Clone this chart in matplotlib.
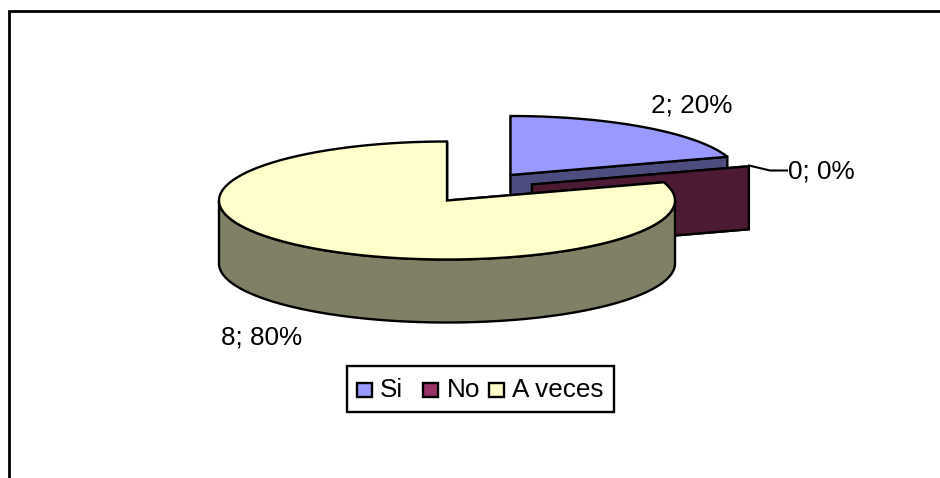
import numpy as np
import matplotlib
matplotlib.use('Agg')
import matplotlib.pyplot as plt
from matplotlib.patches import Polygon, Rectangle

plt.rcParams['font.family'] = ['Liberation Sans', 'DejaVu Sans']

categories = ['Si', 'No', 'A veces']
values = [2, 0, 8]
labels = ['2; 20%', '0; 0%', '8; 80%']
top_colors = ['#9999FF', '#993366', '#FFFFCC']
side_colors = ['#4D4D80', '#4D1A33', '#808066']

# centro de cada sector (explosion), en pixeles de la imagen
centers = [(510.5, 175), (532, 184.5), (447, 200.5)]
rx, ry, depth = 228, 59, 63
W, H = 940, 478
LW = 1.7

fig = plt.figure(figsize=(W / 100, H / 100), dpi=100)
ax = fig.add_axes([0, 0, 1, 1])
ax.set_xlim(0, W)
ax.set_ylim(H, 0)
ax.axis('off')

# marco del grafico: solo arriba y a la izquierda
ax.plot([8.7, 8.7, 940], [478, 11, 11], color='black', lw=2, solid_capstyle='butt', solid_joinstyle='miter')


def rim(cx, cy, a0, a1, n=200):
    a = np.radians(np.linspace(a0, a1, n))
    return cx + rx * np.sin(a), cy - ry * np.cos(a)


def draw_slice(i, a0, a1, z):
    cx, cy = centers[i]
    x, y = rim(cx, cy, a0, a1)
    # paredes rectas
    for a in (a0, a1):
        ex, ey = rim(cx, cy, a, a, 1)
        ax.add_patch(Polygon([(cx, cy), (ex[0], ey[0]), (ex[0], ey[0] + depth), (cx, cy + depth)],
                             closed=True, fc=side_colors[i], ec='black', lw=LW, zorder=z))
    # pared curva, solo la parte delantera
    lo, hi = max(a0, 90), min(a1, 270)
    if hi > lo:
        sx, sy = rim(cx, cy, lo, hi)
        ax.add_patch(Polygon(np.r_[np.c_[sx, sy], np.c_[sx[::-1], sy[::-1] + depth]],
                             closed=True, fc=side_colors[i], ec='black', lw=LW, zorder=z + 0.1))
    if a1 > a0:
        ax.add_patch(Polygon(np.r_[[(cx, cy)], np.c_[x, y]], closed=True,
                             fc=top_colors[i], ec='black', lw=LW, zorder=z + 0.2))


total = sum(values)
angles = np.r_[0, np.cumsum(values) / total * 360]
for i, z in zip([0, 1, 2], [2, 3, 4]):
    draw_slice(i, angles[i], angles[i + 1], z)

# etiquetas
ax.text(692, 105, labels[0], fontsize=18.8, ha='center', va='center', color='black')
ax.plot([749, 770, 787], [165.5, 170.5, 170.5], color='black', lw=1.5, zorder=1)
ax.text(821, 171, labels[1], fontsize=18.8, ha='center', va='center', color='black')
ax.text(262, 337, labels[2], fontsize=18.8, ha='center', va='center', color='black')

# leyenda
ax.add_patch(Rectangle((347, 366), 267, 46, fc='white', ec='black', lw=LW, zorder=5))
lx = [357, 423, 489]
tx = [380, 447, 512]
for i in range(3):
    ax.add_patch(Rectangle((lx[i], 382.5), 15, 14.5, fc=top_colors[i], ec='black', lw=LW, zorder=6))
    ax.text(tx[i], 390, categories[i], fontsize=18.8, ha='left', va='center', color='black', zorder=6)

fig.savefig('out.png', dpi=100, facecolor='white')
